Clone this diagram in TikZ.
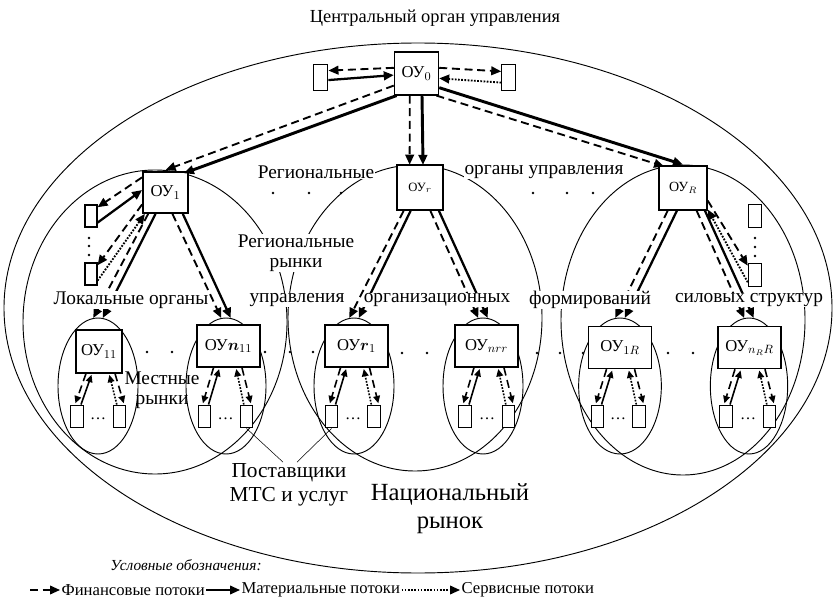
\documentclass[tikz,border=0pt]{standalone}
\usepackage{amsmath,amsthm,amssymb}
\usepackage{fontspec}
\setmainfont{Liberation Serif}
\usetikzlibrary{arrows.meta,shapes.geometric}

\tikzset{
  oybox/.style={draw, line width=1.1pt, fill=white, inner sep=0pt, minimum width=33pt, minimum height=32pt, font=\fontsize{12.5}{14}\selectfont},
  widebox/.style={oybox, minimum width=47.5pt, minimum height=31.5pt},
  supbox/.style={draw, line width=0.9pt, fill=white, inner sep=0pt, minimum width=9.5pt, minimum height=17pt},
  market/.style={draw, ellipse, line width=0.7pt, inner sep=0pt},
  lbl/.style={fill=white, inner sep=0.5pt, font=\fontsize{14.5}{15}\selectfont},
  fin/.style={line width=1.4pt, dash pattern=on 6pt off 3.5pt, -{Triangle[length=7.5pt,width=6.5pt]}},
  mat/.style={line width=1.7pt, -{Triangle[length=7.5pt,width=6.5pt]}},
  srv/.style={line width=1.4pt, dash pattern=on 1.3pt off 1.1pt, -{Triangle[length=7.5pt,width=6.5pt]}},
  loc/.style={line width=1.2pt, shorten >=1pt, -{Triangle[length=5.5pt,width=5pt]}},
}

\begin{document}
\begin{tikzpicture}[x=0.75pt,y=0.75pt,yscale=-1,xscale=1]
\useasboundingbox (0,0) rectangle (834,602);
%Shape: Ellipse (national market)
\draw (418,308) node [market, minimum width=621pt, minimum height=397.5pt] (nat) {};
%Shape: Ellipse (regional markets)
\draw (155,322) node [market, minimum width=198pt, minimum height=228pt] (reg1) {};
\draw (415,318) node [market, minimum width=190.5pt, minimum height=229.5pt] (regr) {};
\draw (683,320) node [market, minimum width=183pt, minimum height=232.5pt] (regR) {};
%Shape: Ellipse (local markets)
\draw (98,386) node [market, minimum width=60pt, minimum height=102pt] (m11) {};
\draw (226,386) node [market, minimum width=60pt, minimum height=102pt] (mn11) {};
\draw (354,386) node [market, minimum width=60pt, minimum height=102pt] (mr1) {};
\draw (483,386) node [market, minimum width=60pt, minimum height=102pt] (mnrr) {};
\draw (620,386) node [market, minimum width=62pt, minimum height=102pt] (m1R) {};
\draw (749,386) node [market, minimum width=58pt, minimum height=102pt] (mnRR) {};

%Shape: Rectangle (central level)
\draw (416.5,73.5) node [oybox] (oy0) {ОУ$_0$};
\draw (320.5,77.5) node [supbox, minimum width=11pt, minimum height=19pt] (lb0) {};
\draw (508.5,77.5) node [supbox, minimum width=10pt, minimum height=19pt] (rb0) {};
%Shape: Rectangle (regional level)
\draw (165.5,192.5) node [oybox, minimum width=34pt, minimum height=31pt] (oy1) {ОУ$_1$};
\draw (420,187.5) node [oybox, minimum width=34.5pt, minimum height=34pt, font=\fontsize{9.5}{11}\selectfont] (oyr) {ОУ$_r$};
\draw (683,188) node [oybox, minimum width=36pt, minimum height=33pt, font=\fontsize{10.5}{12}\selectfont] (oyR) {ОУ$_R$};
\draw (91,216) node [supbox, minimum width=9pt, minimum height=16.5pt] (b1a) {};
\draw (91,274) node [supbox, minimum width=9pt, minimum height=16.5pt] (b1b) {};
\draw (755,216) node [supbox, minimum width=10pt, minimum height=17pt] (bRa) {};
\draw (755,275) node [supbox, minimum width=10pt, minimum height=17pt] (bRb) {};
%Shape: Rectangle (local level)
\draw (99,351.5) node [oybox, minimum width=34.5pt] (oy11) {ОУ$_{11}$};
\draw (228.5,346) node [widebox] (oyn11) {ОУ$\boldsymbol{n}_{11}$};
\draw (356.5,346) node [widebox] (oyr1) {ОУ$\boldsymbol{r}_1$};
\draw (486.5,346) node [widebox] (oynrr) {ОУ$_{nrr}$};
\draw (620,347.5) node [widebox] (oy1R) {ОУ$_{1R}$};
\draw (749.5,347.5) node [widebox] (oynRR) {ОУ$_{n_RR}$};
%Shape: Rectangle (suppliers)
\draw (77,416.5) node [supbox] (s11a) {};
\draw (119.5,416.5) node [supbox] (s11b) {};
\draw (204.5,416.5) node [supbox] (sn11a) {};
\draw (246.5,416.5) node [supbox] (sn11b) {};
\draw (331.5,416.5) node [supbox] (sr1a) {};
\draw (374,416.5) node [supbox] (sr1b) {};
\draw (465,416.5) node [supbox] (snrra) {};
\draw (508.5,416.5) node [supbox] (snrrb) {};
\draw (597.5,416.5) node [supbox] (s1Ra) {};
\draw (639,416.5) node [supbox] (s1Rb) {};
\draw (726,416.5) node [supbox] (snRRa) {};
\draw (769.5,416.5) node [supbox] (snRRb) {};

%Straight Lines (central level)
\draw [fin] (oy0.166) -- (lb0.41);
\draw [mat] (lb0.342) -- (oy0.184);
\draw [fin] (oy0.14) -- (rb0.140);
\draw [srv] (rb0.215) -- (oy0.348);
\draw [fin] (oy0.208) -- (reg1.86);
\draw [mat, line width=2.2pt] (oy0.228) -- (reg1.79);
\draw [fin] (oy0.253) -- (regr.92);
\draw [mat, line width=2.2pt] (oy0.284) -- (regr.87);
\draw [mat, line width=2.2pt] (oy0.328) -- (regR.90);
\draw [fin] (oy0.312) -- (regR.97);
%Straight Lines (regional level)
\draw [fin] (oy1.147) -- (b1a.53);
\draw [mat] (b1a.315) -- (oy1.174);
\draw [fin] (oy1.207) -- (b1b.53);
\draw [srv] (b1b.315) -- (oy1.226);
\draw [fin] (oy1.231) -- (m11.94);
\draw [mat] (oy1.245) -- (m11.86);
\draw [fin] (oy1.288) -- (mn11.94);
\draw [mat] (oy1.309) -- (mn11.86);
\draw [fin] (oyr.235) -- (mr1.94);
\draw [mat] (oyr.248) -- (mr1.86);
\draw [fin] (oyr.294) -- (mnrr.94);
\draw [mat] (oyr.309) -- (mnrr.86);
\draw [fin] (oyR.236) -- (m1R.94);
\draw [mat] (oyR.255) -- (m1R.86);
\draw [fin] (oyR.301) -- (mnRR.94);
\draw [mat] (oyR.314) -- (mnRR.86);
\draw [fin] (oyR.333) -- (bRb.128);
\draw [srv] (bRb.225) -- (oyR.319);
%Straight Lines (local level)
\draw [fin, loc] ([xshift=-9.75pt]oy11.south) -- ([xshift=-1.5pt]s11a.north);
\draw [mat, loc] ([xshift=3pt]s11a.north) -- ([xshift=-5.25pt]oy11.south);
\draw [srv, loc] ([xshift=-2pt]s11b.north) -- ([xshift=7.5pt]oy11.south);
\draw [fin, loc] ([xshift=12pt]oy11.south) -- ([xshift=3.5pt]s11b.north);
\draw [fin, loc] ([xshift=-11.25pt]oyn11.south) -- ([xshift=-1.5pt]sn11a.north);
\draw [mat, loc] ([xshift=3pt]sn11a.north) -- ([xshift=-6.75pt]oyn11.south);
\draw [srv, loc] ([xshift=-2pt]sn11b.north) -- ([xshift=5.6pt]oyn11.south);
\draw [fin, loc] ([xshift=10.1pt]oyn11.south) -- ([xshift=3.5pt]sn11b.north);
\draw [fin, loc] ([xshift=-12pt]oyr1.south) -- ([xshift=-1.5pt]sr1a.north);
\draw [mat, loc] ([xshift=3pt]sr1a.north) -- ([xshift=-7.5pt]oyr1.south);
\draw [srv, loc] ([xshift=-2pt]sr1b.north) -- ([xshift=5.25pt]oyr1.south);
\draw [fin, loc] ([xshift=9.75pt]oyr1.south) -- ([xshift=3.5pt]sr1b.north);
\draw [fin, loc] ([xshift=-9.4pt]oynrr.south) -- ([xshift=-1.5pt]snrra.north);
\draw [mat, loc] ([xshift=3pt]snrra.north) -- ([xshift=-4.9pt]oynrr.south);
\draw [srv, loc] ([xshift=-2pt]snrrb.north) -- ([xshift=8.6pt]oynrr.south);
\draw [fin, loc] ([xshift=13.1pt]oynrr.south) -- ([xshift=3.5pt]snrrb.north);
\draw [fin, loc] ([xshift=-10.1pt]oy1R.south) -- ([xshift=-1.5pt]s1Ra.north);
\draw [mat, loc] ([xshift=3pt]s1Ra.north) -- ([xshift=-5.6pt]oy1R.south);
\draw [srv, loc] ([xshift=-2pt]s1Rb.north) -- ([xshift=6.4pt]oy1R.south);
\draw [fin, loc] ([xshift=10.9pt]oy1R.south) -- ([xshift=3.5pt]s1Rb.north);
\draw [fin, loc] ([xshift=-10.9pt]oynRR.south) -- ([xshift=-1.5pt]snRRa.north);
\draw [mat, loc] ([xshift=3pt]snRRa.north) -- ([xshift=-6.4pt]oynRR.south);
\draw [srv, loc] ([xshift=-2pt]snRRb.north) -- ([xshift=7.1pt]oynRR.south);
\draw [fin, loc] ([xshift=11.6pt]oynRR.south) -- ([xshift=3.5pt]snRRb.north);

%Shape: Circle (dots)
\fill (273,193) circle (1.1pt) (309,193) circle (1.1pt) (341,193) circle (1.1pt);
\fill (533,193) circle (1.1pt) (567,193) circle (1.1pt) (593,193) circle (1.1pt);
\fill (89,238) circle (1pt) (89,246) circle (1pt) (89,255) circle (1pt);
\fill (755,238) circle (1pt) (755,247) circle (1pt) (755,256) circle (1pt);
\fill (147,352) circle (1.1pt) (172,352) circle (1.1pt);
\fill (265,352) circle (1.1pt) (290,352) circle (1.1pt) (313,352) circle (1.1pt);
\fill (402,353) circle (1.1pt) (427,353) circle (1.1pt);
\fill (537,353) circle (1.1pt) (560,353) circle (1.1pt) (583,353) circle (1.1pt);
\fill (668,353) circle (1.1pt) (693,353) circle (1.1pt);
% Text Node
\draw (98,419) node [font=\fontsize{12}{13}\selectfont, inner sep=0pt] (d1) {\ldots};
\draw (225.5,419) node [font=\fontsize{12}{13}\selectfont, inner sep=0pt] (d2) {\ldots};
\draw (353,419) node [font=\fontsize{12}{13}\selectfont, inner sep=0pt] (d3) {\ldots};
\draw (487,419) node [font=\fontsize{12}{13}\selectfont, inner sep=0pt] (d4) {\ldots};
\draw (618,419) node [font=\fontsize{12}{13}\selectfont, inner sep=0pt] (d5) {\ldots};
\draw (748,419) node [font=\fontsize{12}{13}\selectfont, inner sep=0pt] (d6) {\ldots};

% Text Node
\draw (435,18) node [lbl, font=\fontsize{13.8}{15}\selectfont] (title) {Центральный орган управления};
% Text Node
\draw (316,172) node [lbl] (regl) {Региональные};
% Text Node
\draw (544,172) node [lbl] (rego) {органы управления};
% Text Node
\draw (296,253) node [lbl, align=center] (regm) {Региональные\\рынки};
% Text Node
\draw (131,300) node [lbl] (lok) {Локальные органы};
\draw (297,300) node [lbl] (upr) {управления};
\draw (437,300) node [lbl] (org) {организационных};
\draw (590,300) node [lbl] (form) {формирований};
\draw (749,300) node [lbl] (sil) {силовых структур};
% Text Node
\draw (162,390) node [align=center, inner sep=0pt, font=\fontsize{14.5}{15}\selectfont] (mest) {Местные\\рынки};
% Text Node
\draw (289,485) node [align=center, inner sep=1pt, font=\fontsize{16}{18}\selectfont] (post) {Поставщики\\МТС и услуг};
\draw ([xshift=-4.5pt]post.north) -- (sn11b.south);
\draw ([xshift=6pt]post.north) -- (sr1a.south);
% Text Node
\draw (450,509) node [align=center, font=\fontsize{18.5}{21}\selectfont] (nrynok) {Национальный\\рынок};

% Legend
\draw (110,565) node [anchor=west, inner sep=0pt, font=\itshape\fontsize{11.5}{14}\selectfont] (usl) {Условные обозначения:};
\coordinate (lg0) at (30,590);
\draw (60,590) node [anchor=west, inner sep=1pt, font=\fontsize{12.5}{14}\selectfont] (leg1) {Финансовые потоки};
\draw (240,590) node [anchor=west, inner sep=1pt, font=\fontsize{12.5}{14}\selectfont] (leg2) {Материальные потоки};
\draw (460,590) node [anchor=west, inner sep=1pt, font=\fontsize{12.5}{14}\selectfont] (leg3) {Сервисные потоки};
\draw [fin, line width=1.2pt] (lg0) -- (leg1.west);
\draw [mat, line width=1.3pt] (leg1.east) -- (leg2.west);
\draw [srv, line width=1.2pt] (leg2.east) -- (leg3.west);
\end{tikzpicture}
\end{document}
